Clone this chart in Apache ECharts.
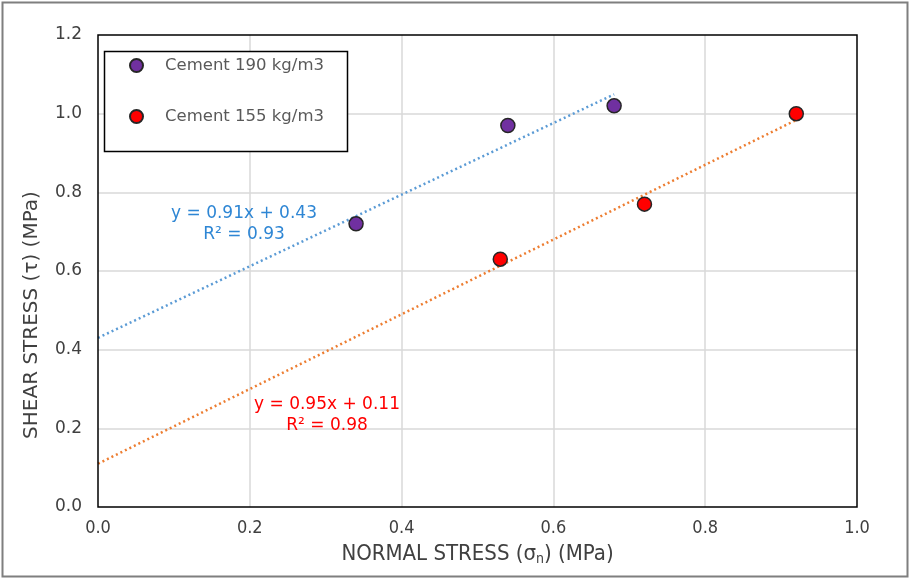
<!DOCTYPE html>
<html><head><meta charset="utf-8">
<script src="https://cdn.jsdelivr.net/npm/echarts@6/dist/echarts.min.js"></script>
<style>html,body{margin:0;padding:0;background:#fff}#c{width:911px;height:580px}</style>
</head><body><div id="c"></div>
<script>
const xTicks = ['0.0','0.2','0.4','0.6','0.8','1.0'];
const yTicks = ['0.0','0.2','0.4','0.6','0.8','1.0','1.2'];
const seriesNames = ['Cement 190 kg/m3', 'Cement 155 kg/m3'];
const cement190 = [[0.34, 0.72], [0.54, 0.97], [0.68, 1.02]];
const cement155 = [[0.53, 0.63], [0.72, 0.77], [0.92, 1.00]];
const trend190 = [[0, 0.43], [0.68, 1.049]];
const trend155 = [[0, 0.11], [0.92, 0.984]];
const eq190 = ['y = 0.91x + 0.43', 'R² = 0.93'];
const eq155 = ['y = 0.95x + 0.11', 'R² = 0.98'];

const FONT = 'DejaVu Sans';
const NARROW = '"DejaVu Sans Condensed", sans-serif';
const chart = echarts.init(document.getElementById('c'));
chart.setOption({
  animation: false,
  backgroundColor: '#fff',
  grid: { left: 98, right: 54, top: 35, bottom: 73, show: true, borderColor: '#000', borderWidth: 1.5, backgroundColor: 'transparent', z: 3 },
  xAxis: {
    type: 'value', min: 0, max: 1, interval: 0.2,
    axisLine: { show: false }, axisTick: { show: false },
    splitLine: { showMinLine: false, showMaxLine: false, lineStyle: { color: '#d9d9d9', width: 1.5 } },
    axisLabel: { color: '#404040', fontFamily: NARROW, fontSize: 18, margin: 12,
      formatter: v => xTicks[Math.round(v / 0.2)] },
    name: 'NORMAL STRESS (σ{s|n}) (MPa)', nameLocation: 'middle', nameGap: 35,
    nameTextStyle: { color: '#404040', fontFamily: NARROW, fontSize: 22,
      rich: { s: { fontSize: 14, verticalAlign: 'bottom', padding: [10, 0, 0, 0], fontFamily: NARROW, color: '#404040' } } }
  },
  yAxis: {
    type: 'value', min: 0, max: 1.2, interval: 0.2,
    axisLine: { show: false }, axisTick: { show: false },
    splitLine: { showMinLine: false, showMaxLine: false, lineStyle: { color: '#d9d9d9', width: 1.5 } },
    axisLabel: { color: '#404040', fontFamily: FONT, fontSize: 17, margin: 16,
      formatter: v => yTicks[Math.round(v / 0.2)] }
  },
  series: [
    { name: 'trend190', type: 'line', data: trend190, symbol: 'none', silent: true,
      lineStyle: { color: '#5b9bd5', width: 2.5, type: [2, 3] }, z: 2 },
    { name: 'trend155', type: 'line', data: trend155, symbol: 'none', silent: true,
      lineStyle: { color: '#ed7d31', width: 2.5, type: [2, 3] }, z: 2 },
    { name: seriesNames[0], type: 'scatter', data: cement190, symbolSize: 14,
      itemStyle: { color: '#7030a0', borderColor: '#262626', borderWidth: 1.5, opacity: 1 }, z: 3 },
    { name: seriesNames[1], type: 'scatter', data: cement155, symbolSize: 14,
      itemStyle: { color: '#ff0000', borderColor: '#262626', borderWidth: 1.5, opacity: 1 }, z: 3 }
  ],
  legend: {
    data: seriesNames, orient: 'vertical', left: 124, top: 52, z: 20,
    itemWidth: 13, itemHeight: 13, itemGap: 34, icon: 'circle',
    textStyle: { color: '#595959', fontFamily: FONT, fontSize: 16.5, padding: [0, 0, 0, 17] }
  },
  graphic: [
    { type: 'rect', shape: { x: 2.5, y: 2.5, width: 905, height: 574 }, style: { fill: 'none', stroke: '#7f7f7f', lineWidth: 2 }, silent: true, z: 1 },
    { type: 'rect', shape: { x: 104.5, y: 51.5, width: 243, height: 100 }, style: { fill: '#fff', stroke: '#000', lineWidth: 1.5 }, z: 5, silent: true },
    { type: 'text', x: 32, y: 315, rotation: Math.PI / 2, z: 10,
      style: { text: 'SHEAR STRESS (τ) (MPa)', fill: '#404040', font: '20px "DejaVu Sans"', align: 'center', verticalAlign: 'middle' } },
    { type: 'text', x: 244, y: 224, z: 10,
      style: { text: eq190.join('\n'), fill: '#2e86d4', font: '17px "DejaVu Sans"', align: 'center', verticalAlign: 'middle', lineHeight: 21 } },
    { type: 'text', x: 327, y: 415, z: 10,
      style: { text: eq155.join('\n'), fill: '#ff0000', font: '17px "DejaVu Sans"', align: 'center', verticalAlign: 'middle', lineHeight: 21 } }
  ]
});
</script></body></html>
